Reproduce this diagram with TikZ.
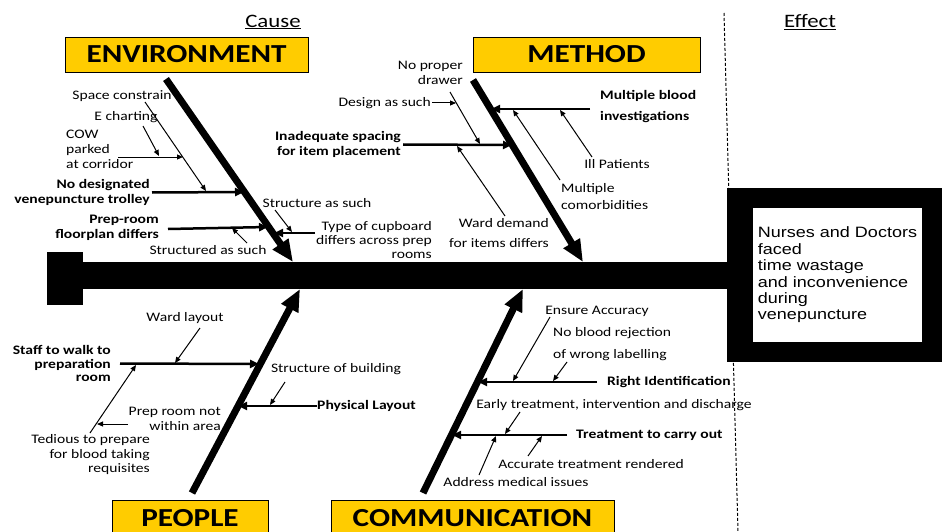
\documentclass[tikz,border=0pt]{standalone}
\usepackage{fontspec}
\usepackage{xcolor}
\usepackage{tikz}
\usetikzlibrary{arrows.meta}
\newfontfamily\calib{Carlito}[FakeStretch=1.2]
\newfontfamily\arialx{Liberation Sans}[FakeStretch=1.2]
\definecolor{boxgold}{HTML}{FFCC00}
\tikzset{catbox/.style={draw=black, line width=0.8pt, fill=boxgold, inner sep=0pt, minimum height=35pt, font=\calib\bfseries\fontsize{26}{28}\selectfont},
bone/.style={line width=7pt, -{Triangle[length=22pt,width=18pt]}},
cause/.style={line width=2.5pt, -{Triangle[length=9pt,width=8pt]}},
subcause/.style={line width=1pt, -{Triangle[length=6pt,width=5pt]}},
%labels are stretched a little, like the original
lbl/.style={inner sep=0pt, font=\calib\fontsize{13}{14.5}\selectfont},
blbl/.style={lbl, font=\calib\bfseries\fontsize{13}{14.5}\selectfont}}

\begin{document}
\begin{tikzpicture}[x=1pt, y=-1pt]
\useasboundingbox (0,0) rectangle (942,532);
%\draw[step=50pt,color=gray] (0,0) grid (942,532);
\node[lbl, font=\calib\fontsize{19}{20}\selectfont] (causehead) at (273,22) {\underline{Cause}};
\node[lbl, font=\calib\fontsize{19}{20}\selectfont] (effecthead) at (810,22) {\underline{Effect}};
\coordinate (dtop) at (724,13);
\coordinate (dbot) at (738,532);
\draw[line width=1pt, dash pattern=on 3pt off 2pt] (dtop) -- (dbot);

% categories
\node[catbox, minimum width=243pt] (env) at (186.5,54.5) {ENVIRONMENT};
\node[catbox, minimum width=227pt] (method) at (586.5,54.5) {METHOD};
\node[catbox, minimum width=156pt, anchor=north] (people) at (190,500) {PEOPLE};
\node[catbox, minimum width=283pt, anchor=north] (comm) at (472.5,500) {COMMUNICATION};

% spine and effect
\node[fill=black, minimum width=36pt, minimum height=53pt, inner sep=0pt] (tail) at (65,278.5) {};
\node[draw=black, line width=20pt, minimum width=195pt, minimum height=154pt, inner sep=0pt, align=left, font=\arialx\fontsize{15}{16.4}\selectfont] (effect) at (834.5,275) {\hspace*{6pt}Nurses and Doctors\\\hspace*{6pt}faced\\\hspace*{6pt}time wastage\\\hspace*{6pt}and inconvenience\\\hspace*{6pt}during\\\hspace*{6pt}venepuncture};
\fill[black] (effect.north west) rectangle ([xshift=26pt]effect.south west);
\draw[line width=27pt] (tail.east |- effect.west) -- (effect.west);

% bones
\coordinate (envtop) at (166,79);
\coordinate (envtip) at (293,262);
\coordinate (mettop) at (473,80);
\coordinate (mettip) at (583,262);
\coordinate (peobot) at (192,493);
\coordinate (peotip) at (300,289);
\coordinate (combot) at (423,493);
\coordinate (comtip) at (523,289);
\draw[bone] (envtop) -- (envtip);
\draw[bone] (mettop) -- (mettip);
\draw[bone] (peobot) -- (peotip);
\draw[bone] (combot) -- (comtip);

% environment
\node[lbl] (space) at (122,96) {Space constrain};
\node[lbl] (echart) at (126,117) {E charting};
\node[lbl, align=left, anchor=west, font=\calib\fontsize{13}{15}\selectfont] (cow) at (66,149) {COW\\parked\\at corridor};
\node[blbl, align=right, anchor=east] (nodesig) at (150,192.5) {No designated\\venepuncture trolley};
\node[blbl, align=right, anchor=east] (preproom) at (159,228) {Prep-room\\floorplan differs};
\node[lbl] (strucd) at (208,250) {Structured as such};
\node[lbl] (strucas) at (317,203) {Structure as such};
\node[lbl, align=right, anchor=east, font=\calib\fontsize{13}{14}\selectfont] (cupboard) at (432,240) {Type of cupboard\\differs across prep\\rooms};
\coordinate (e1) at (244,192);
\coordinate (e2) at (268,227);
\coordinate (e3) at (274,233);
\coordinate (cups) at (315,233);
\coordinate (spcs) at (145,102);
\coordinate (spce) at (206,191);
\coordinate (echs) at (143,126);
\coordinate (eche) at (159,156);
\coordinate (cows) at (118,157);
\coordinate (cowe) at (183,157);
\coordinate (sds) at (247,243);
\coordinate (sde) at (232,228);
\coordinate (sas) at (275,210);
\coordinate (sae) at (292,232);
\draw[cause] ([xshift=2pt]nodesig.east) -- (e1);
\draw[cause] ([xshift=9pt,yshift=-1pt]preproom.east) -- (e2);
\draw[cause] (cups) -- (e3);
\draw[subcause] (spcs) -- (spce);
\draw[subcause] (echs) -- (eche);
\draw[subcause] (cows) -- (cowe);
\draw[subcause] (sds) -- (sde);
\draw[subcause] (sas) -- (sae);

% method
\node[lbl, align=right, anchor=east] (drawer) at (463,73) {No proper\\drawer};
\node[lbl, anchor=east] (design) at (431,103) {Design as such};
\node[blbl, align=right, anchor=east] (spacing) at (401,144.5) {Inadequate spacing\\for item placement};
\node[lbl, align=right, anchor=east] (demand) at (549,233) {Ward demand\\[6pt]for items differs};
\node[blbl, align=left, anchor=west] (blood) at (600,106.5) {Multiple blood\\[6pt]investigations};
\node[lbl] (ill) at (617,164) {Ill Patients};
\node[lbl, align=left, anchor=west] (comorb) at (561,196.5) {Multiple\\[2pt]comorbidities};
\coordinate (m1) at (512,145);
\coordinate (m2) at (491,109);
\coordinate (blds) at (590,109);
\coordinate (drws) at (450,92);
\coordinate (drwe) at (480,144);
\coordinate (dese) at (456,103);
\coordinate (dems) at (505,216);
\coordinate (deme) at (457,146);
\coordinate (ills) at (592,157);
\coordinate (ille) at (560,110);
\coordinate (cmbs) at (560,180);
\coordinate (cmbe) at (513,110);
\draw[cause] ([xshift=2pt]spacing.east) -- (m1);
\draw[cause] (blds) -- (m2);
\draw[subcause] (drws) -- (drwe);
\draw[subcause] ([xshift=1pt]design.east) -- (dese);
\draw[subcause] (dems) -- (deme);
\draw[subcause] (ills) -- (ille);
\draw[subcause] (cmbs) -- (cmbe);

% people
\node[lbl] (wardlay) at (185,318) {Ward layout};
\node[blbl, align=right, anchor=east, font=\calib\bfseries\fontsize{13}{13.5}\selectfont] (staff) at (111,363.5) {Staff to walk to\\preparation\\room};
\node[lbl, align=right, anchor=east, font=\calib\fontsize{13}{15}\selectfont] (prepnot) at (221,418.5) {Prep room not\\within area};
\node[lbl, align=right, anchor=east] (tedious) at (150,455) {Tedious to prepare\\for blood taking\\requisites};
\node[lbl] (bldg) at (336,369) {Structure of building};
\node[blbl, anchor=west] (physical) at (317,406) {Physical Layout};
\coordinate (p1) at (259,364);
\coordinate (p2) at (238,406);
\coordinate (wls) at (200,328);
\coordinate (wle) at (175,363);
\coordinate (teds) at (90,433);
\coordinate (tede) at (136,365);
\coordinate (pns) at (128,424);
\coordinate (pne) at (97,424);
\coordinate (blds2) at (285,382);
\coordinate (blde2) at (270,405);
\draw[cause] ([xshift=9pt]staff.east) -- (p1);
\draw[cause] (physical.west) -- (p2);
\draw[subcause] (wls) -- (wle);
\draw[subcause] (teds) -- (tede);
\draw[subcause] (pns) -- (pne);
\draw[subcause] (blds2) -- (blde2);

% communication
\node[lbl] (ensure) at (597,311) {Ensure Accuracy};
\node[lbl, align=left, anchor=west] (noblood) at (553,344) {No blood rejection\\[7pt]of wrong labelling};
\node[blbl, anchor=west] (rightid) at (607,382) {Right Identification};
\node[lbl] (early) at (614,405) {Early treatment, intervention and discharge};
\node[blbl, anchor=west] (treat) at (576,435) {Treatment to carry out};
\node[lbl] (accurate) at (591,464) {Accurate treatment rendered};
\node[lbl] (address) at (516,482) {Address medical issues};
\coordinate (k1) at (478,382);
\coordinate (k2) at (452,435);
\coordinate (ens) at (550,317);
\coordinate (ene) at (513,381);
\coordinate (nbs) at (567,362);
\coordinate (nbe) at (553,381);
\coordinate (ets) at (520,412);
\coordinate (ete) at (505,434);
\coordinate (acs) at (528,456);
\coordinate (ace) at (542,436);
\coordinate (ads) at (479,475);
\coordinate (ade) at (496,436);
\draw[cause] ([xshift=-10pt]rightid.west) -- (k1);
\draw[cause] ([xshift=-9pt]treat.west) -- (k2);
\draw[subcause] (ens) -- (ene);
\draw[subcause] (nbs) -- (nbe);
\draw[subcause] (ets) -- (ete);
\draw[subcause] (acs) -- (ace);
\draw[subcause] (ads) -- (ade);
\end{tikzpicture}
\end{document}
